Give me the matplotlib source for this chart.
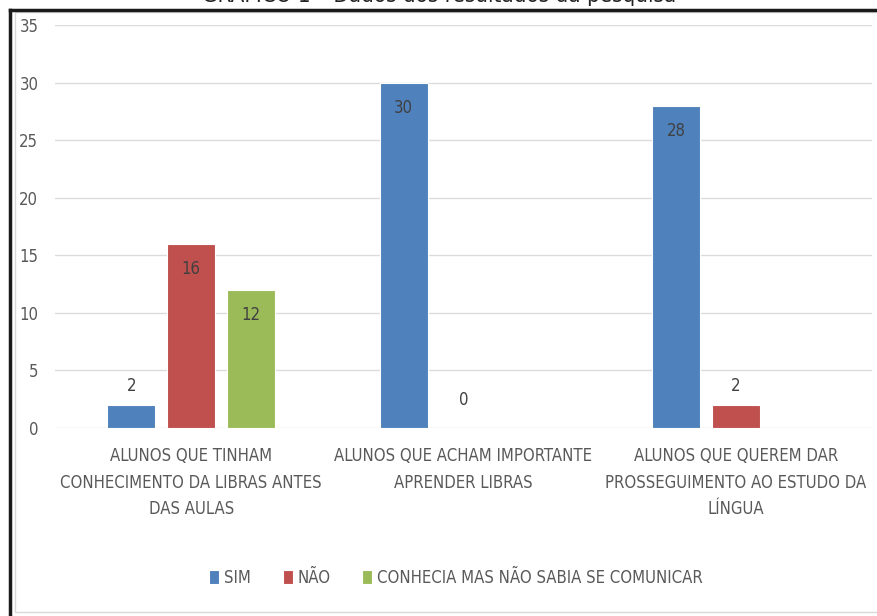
import matplotlib.pyplot as plt
import matplotlib.lines as mlines
import matplotlib.patches as mpatches
import numpy as np

plt.rcParams['font.family'] = ['DejaVu Sans']
plt.rcParams['font.stretch'] = 'condensed'

# Dados
categorias = ["ALUNOS QUE TINHAM\nCONHECIMENTO DA LIBRAS ANTES\nDAS AULAS",
              "ALUNOS QUE ACHAM IMPORTANTE\nAPRENDER LIBRAS",
              "ALUNOS QUE QUEREM DAR\nPROSSEGUIMENTO AO ESTUDO DA\nLÍNGUA"]
series = ["SIM", "NÃO", "CONHECIA MAS NÃO SABIA SE COMUNICAR"]
sim = [2, 30, 28]
nao = [16, 0, 2]
conhecia = [12, None, None]
cores = ["#4F81BD", "#C0504D", "#9BBB59"]
titulo = "GRÁFICO 1 – Dados dos resultados da pesquisa"

W, H = 878, 616
fig = plt.figure(figsize=(W / 100, H / 100), dpi=100)

# moldura
fig.add_artist(mpatches.Rectangle((15 / W, 1 - 612 / H), 1, (612 - 12) / H,
                                  transform=fig.transFigure, fill=False,
                                  edgecolor="#D9D9D9", linewidth=1))
fig.add_artist(mlines.Line2D([10 / W, 1], [1 - 10 / H, 1 - 10 / H],
                             transform=fig.transFigure, color="#1a1a1a", linewidth=2.5))
fig.add_artist(mlines.Line2D([10 / W, 10 / W], [1 - 10 / H, 0],
                             transform=fig.transFigure, color="#1a1a1a", linewidth=2.5))
# titulo cortado no topo, como na imagem original
fig.text(0.5, 1 - 2 / H, titulo, ha="center", va="baseline", fontsize=16, color="#222222")

ax = fig.add_axes([55 / W, 1 - 428 / H, 817 / W, (428 - 25) / H])
x = np.arange(len(categorias))
largura = 0.176
desloc = [-0.22, 0, 0.22]

for k, (nome, vals) in enumerate(zip(series, [sim, nao, conhecia])):
    xs = [xi + desloc[k] for xi, v in zip(x, vals) if v is not None]
    vs = [v for v in vals if v is not None]
    barras = ax.bar(xs, vs, largura, color=cores[k], edgecolor="white",
                    linewidth=0.8, label=nome, zorder=3)
    for b, v in zip(barras, vs):
        cx = b.get_x() + b.get_width() / 2
        if v >= 5:
            ax.annotate(str(v), (cx, v), xytext=(0, -18), textcoords="offset points",
                        ha="center", va="center", fontsize=12, color="#404040")
        else:
            ax.annotate(str(v), (cx, v), xytext=(0, 14 if v > 0 else 20),
                        textcoords="offset points",
                        ha="center", va="center", fontsize=12, color="#404040")

ax.set_xlim(-0.5, 2.5)
ax.set_ylim(0, 35)
ax.set_yticks(range(0, 36, 5))
ax.grid(axis="y", color="#DCDCDC", linewidth=1, zorder=0)
ax.set_axisbelow(True)
for s in ax.spines.values():
    s.set_visible(False)
ax.tick_params(axis="both", length=0, labelsize=12, labelcolor="#595959")
ax.tick_params(axis="y", pad=12)
ax.set_xticks(x)
ax.set_xticklabels(categorias, linespacing=1.6)
ax.tick_params(axis="x", pad=14)

fig.legend(loc="center", bbox_to_anchor=(456 / W, 1 - 578 / H), ncol=3, frameon=False,
           fontsize=12, handlelength=0.6, handleheight=0.9, handletextpad=0.3,
           columnspacing=1.9, labelcolor="#595959")

fig.savefig("out.png", dpi=100, facecolor="white")
